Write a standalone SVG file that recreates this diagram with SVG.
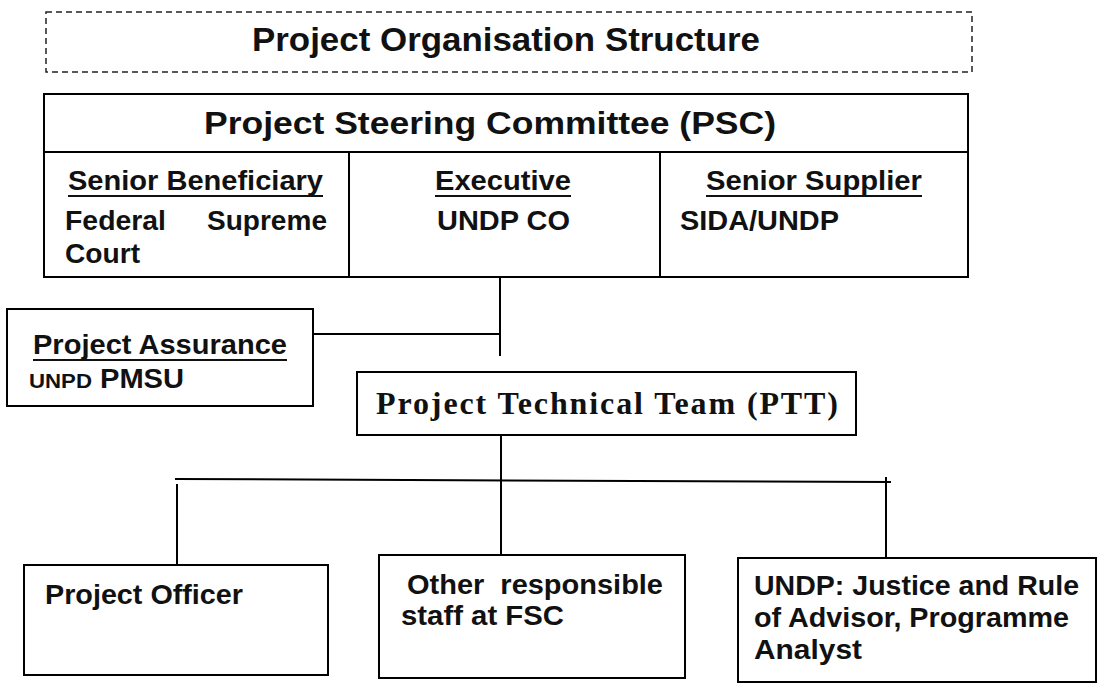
<svg xmlns="http://www.w3.org/2000/svg" width="1104" height="684" viewBox="0 0 1104 684">
<style>
.box{fill:#fff;stroke:#000;stroke-width:2}
.dash{fill:none;stroke:#222;stroke-width:1.5;stroke-dasharray:6 4}
.ln{stroke:#000;stroke-width:2;fill:none}
.t{font-family:"Liberation Sans",Arial,sans-serif;font-weight:bold;fill:#111}
.s{font-family:"Liberation Serif","Times New Roman",serif;font-weight:bold;fill:#111}
.ul{stroke:#111;stroke-width:2}
</style>
<rect width="1104" height="684" fill="#fff"/>
<g id="title">
<rect class="dash" x="46" y="12" width="926" height="60"/>
<text class="t" x="252" y="51" font-size="34" textLength="508" lengthAdjust="spacingAndGlyphs">Project Organisation Structure</text>
</g>
<g id="connectors">
<line class="ln" x1="500" y1="277" x2="500" y2="356"/>
<line class="ln" x1="313" y1="334" x2="500" y2="334"/>
<line class="ln" x1="501" y1="420" x2="501" y2="555"/>
<line class="ln" x1="175" y1="479" x2="891" y2="482"/>
<line class="ln" x1="177" y1="484" x2="177" y2="565"/>
<line class="ln" x1="886" y1="477" x2="886" y2="558"/>
</g>
<g id="psc">
<rect class="box" x="44" y="94" width="924" height="183"/>
<line class="ln" x1="44" y1="152" x2="968" y2="152"/>
<line class="ln" x1="349" y1="152" x2="349" y2="277"/>
<line class="ln" x1="660" y1="152" x2="660" y2="277"/>
<text class="t" x="204" y="134" font-size="31" textLength="572" lengthAdjust="spacingAndGlyphs">Project Steering Committee (PSC)</text>
</g>
<g id="senior-beneficiary">
<text class="t" x="68" y="190" font-size="28" textLength="255" lengthAdjust="spacingAndGlyphs">Senior Beneficiary</text>
<line class="ul" x1="68" y1="196" x2="323" y2="196"/>
<text class="t" x="65" y="230" font-size="28" textLength="101" lengthAdjust="spacingAndGlyphs">Federal</text>
<text class="t" x="207" y="230" font-size="28" textLength="120" lengthAdjust="spacingAndGlyphs">Supreme</text>
<text class="t" x="65" y="263" font-size="28" textLength="75" lengthAdjust="spacingAndGlyphs">Court</text>
</g>
<g id="executive">
<text class="t" x="435" y="190" font-size="28" textLength="136" lengthAdjust="spacingAndGlyphs">Executive</text>
<line class="ul" x1="435" y1="196" x2="571" y2="196"/>
<text class="t" x="437" y="230" font-size="28" textLength="133" lengthAdjust="spacingAndGlyphs">UNDP CO</text>
</g>
<g id="senior-supplier">
<text class="t" x="706" y="190" font-size="28" textLength="216" lengthAdjust="spacingAndGlyphs">Senior Supplier</text>
<line class="ul" x1="706" y1="196" x2="922" y2="196"/>
<text class="t" x="680" y="230" font-size="28" textLength="159" lengthAdjust="spacingAndGlyphs">SIDA/UNDP</text>
</g>
<g id="project-assurance">
<rect class="box" x="7" y="309" width="306" height="97"/>
<text class="t" x="33" y="354" font-size="28" textLength="254" lengthAdjust="spacingAndGlyphs">Project Assurance</text>
<line class="ul" x1="33" y1="360" x2="287" y2="360"/>
<text class="t" x="29" y="388" font-size="20" textLength="63" lengthAdjust="spacingAndGlyphs">UNPD</text>
<text class="t" x="100" y="388" font-size="27" textLength="84" lengthAdjust="spacingAndGlyphs">PMSU</text>
</g>
<g id="ptt">
<rect class="box" x="357" y="372" width="499" height="63"/>
<text class="s" x="376" y="414" font-size="32" textLength="462" lengthAdjust="spacing">Project Technical Team (PTT)</text>
</g>
<g id="project-officer">
<rect class="box" x="24" y="565" width="304" height="110"/>
<text class="t" x="45" y="604" font-size="28" textLength="198" lengthAdjust="spacingAndGlyphs">Project Officer</text>
</g>
<g id="other-staff">
<rect class="box" x="379" y="555" width="306" height="123"/>
<text class="t" x="407" y="594" font-size="28" textLength="256" lengthAdjust="spacingAndGlyphs" xml:space="preserve" style="white-space:pre">Other  responsible</text>
<text class="t" x="401" y="625" font-size="28" textLength="163" lengthAdjust="spacingAndGlyphs">staff at FSC</text>
</g>
<g id="undp-advisor">
<rect class="box" x="738" y="558" width="358" height="124"/>
<text class="t" x="754" y="595" font-size="28" textLength="325" lengthAdjust="spacingAndGlyphs">UNDP: Justice and Rule</text>
<text class="t" x="754" y="627" font-size="28" textLength="315" lengthAdjust="spacingAndGlyphs">of Advisor, Programme</text>
<text class="t" x="754" y="659" font-size="28" textLength="108" lengthAdjust="spacingAndGlyphs">Analyst</text>
</g>
</svg>
